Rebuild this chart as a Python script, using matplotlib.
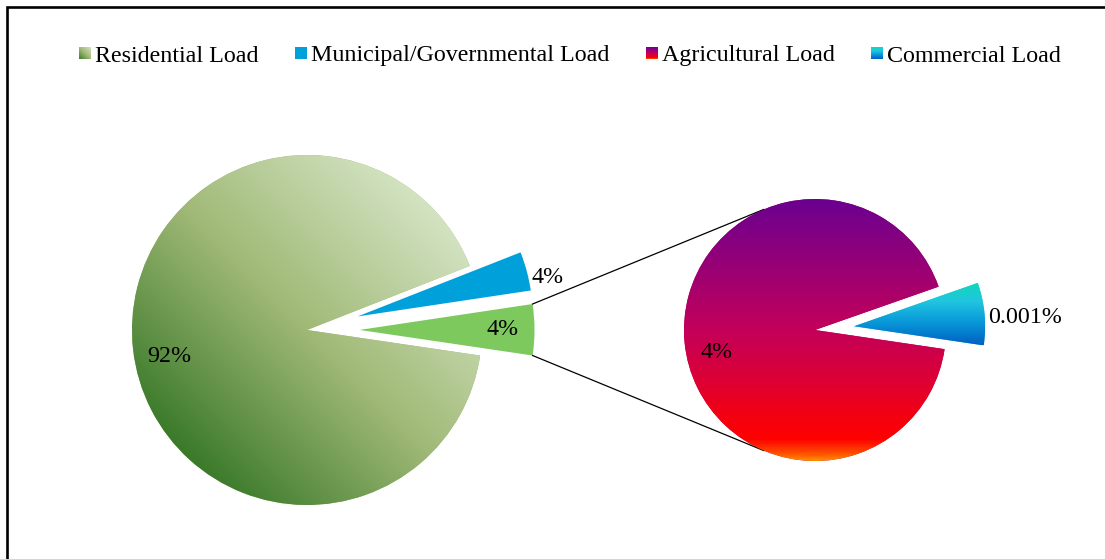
import numpy as np
import matplotlib
matplotlib.use('Agg')
import matplotlib.pyplot as plt
from matplotlib.colors import LinearSegmentedColormap
from matplotlib.patches import Rectangle
from matplotlib.legend_handler import HandlerBase
from matplotlib.font_manager import FontProperties

plt.rcParams['font.family'] = ['Liberation Serif', 'DejaVu Serif']

# ---------------- data ----------------
primary_labels = ['Other', 'Municipal/Governmental Load', 'Residential Load']
primary_sizes = [4.7, 3.6, 91.7]          # visual shares of the main pie
primary_text = ['4%', '4%', '92%']

secondary_labels = ['Commercial Load', 'Agricultural Load']
secondary_sizes = [7.7, 92.3]             # visual shares of the secondary pie
secondary_text = ['0.001%', '4%']

legend_order = ['Residential Load', 'Municipal/Governmental Load',
                'Agricultural Load', 'Commercial Load']

# ---------------- styles ----------------
cmap_res = LinearSegmentedColormap.from_list(
    'res', [(0, '#3b7a2a'), (0.5, '#a0b976'), (1, '#d3e3c2')])
cmap_agr = LinearSegmentedColormap.from_list(
    'agr', [(0, '#6a0090'), (0.31, '#a2006f'), (0.5, '#c3005a'),
            (0.69, '#dc0035'), (0.84, '#f5000f'), (0.92, '#ff0000'),
            (0.975, '#ff5000'), (1, '#ff8a00')])
cmap_com = LinearSegmentedColormap.from_list(
    'com', [(0, '#10d8b8'), (0.3, '#20c6e0'), (0.65, '#0896d8'), (1, '#0060c0')])
col_mun = '#00a0da'
col_other = '#7dc95e'
FS = 17.3

W, H = 1105, 559
fig = plt.figure(figsize=(W / 100, H / 100), dpi=100)
ax = fig.add_axes([0, 0, 1, 1])

c1 = (307, H - 330); r1 = 175
c2 = (815, H - 330); r2 = 131
start = -8.4
ex = 0.30   # explode as fraction of radius

w1, _ = ax.pie(primary_sizes, startangle=start, counterclock=True,
               explode=[ex * r1, ex * r1, 0.0], center=c1, radius=r1,
               colors=[col_other, col_mun, '#a0b976'],
               wedgeprops=dict(linewidth=0), frame=True)
w2, _ = ax.pie(secondary_sizes, startangle=start, counterclock=True,
               explode=[ex * r2, 0.0], center=c2, radius=r2,
               colors=['#20c6e0', '#c3005a'],
               wedgeprops=dict(linewidth=0), frame=True)


def grad_fill(wedge, cmap, kind, extent=None):
    cx, cy = wedge.center
    r = wedge.r
    if extent is None:
        extent = (cx - r, cx + r, cy - r, cy + r)
    x0, x1, y0, y1 = extent
    n = 300
    xs = np.linspace(x0, x1, n)
    ys = np.linspace(y0, y1, n)
    X, Y = np.meshgrid(xs, ys)
    if kind == 'diag':
        t = 0.5 + ((X - cx) + (Y - cy)) / (np.sqrt(2) * 2 * r)
    else:
        t = (y1 - Y) / (y1 - y0)
    im = ax.imshow(np.clip(t, 0, 1), extent=extent, origin='lower',
                   cmap=cmap, vmin=0, vmax=1, interpolation='bilinear',
                   zorder=wedge.get_zorder() + 0.1)
    im.set_clip_path(wedge)


grad_fill(w1[2], cmap_res, 'diag')
grad_fill(w2[1], cmap_agr, 'vert')
# commercial wedge: gradient across its own bounding box
wc = w2[0]
th = np.radians(np.linspace(wc.theta1, wc.theta2, 50))
bx = np.concatenate([[wc.center[0]], wc.center[0] + wc.r * np.cos(th)])
by = np.concatenate([[wc.center[1]], wc.center[1] + wc.r * np.sin(th)])
grad_fill(wc, cmap_com, 'vert', extent=(bx.min(), bx.max(), by.min(), by.max()))

# ---------------- labels ----------------
def put(wedge, text, dist, ang):
    cx, cy = wedge.center
    a = np.radians(ang)
    ax.text(cx + dist * wedge.r * np.cos(a), cy + dist * wedge.r * np.sin(a),
            text, ha='center', va='center', fontsize=FS, zorder=10)

put(w1[0], primary_text[0], 0.82, 0)
put(w1[1], primary_text[1], 1.11, 11.5)
put(w1[2], primary_text[2], 0.80, 191)
put(w2[1], secondary_text[1], 0.77, 193)
put(w2[0], secondary_text[0], 1.31, 3.0)

# ---------------- connector lines ----------------
g = w1[0]
for th_g, th_s in [(g.theta2, 113.0), (g.theta1, 247.0)]:
    p0 = (g.center[0] + g.r * np.cos(np.radians(th_g)),
          g.center[1] + g.r * np.sin(np.radians(th_g)))
    p1 = (c2[0] + r2 * np.cos(np.radians(th_s)),
          c2[1] + r2 * np.sin(np.radians(th_s)))
    ax.plot([p0[0], p1[0]], [p0[1], p1[1]], color='black', lw=0.9, zorder=1)

# ---------------- frame ----------------
ax.plot([6.5, 6.5, W + 5], [-5, H - 6.5, H - 6.5], color='black', lw=1.9,
        solid_joinstyle='miter', zorder=20)

# ---------------- legend ----------------
class GradHandler(HandlerBase):
    def __init__(self, kind, cmap=None, color=None):
        super().__init__()
        self.kind = kind
        self.cmap = cmap
        self.color = color

    def create_artists(self, legend, orig_handle, xdescent, ydescent,
                       width, height, fontsize, trans):
        s = width
        x0 = -xdescent
        y0 = -ydescent + (height - s) / 2
        if self.kind == 'solid':
            return [Rectangle((x0, y0), s, s, facecolor=self.color,
                              edgecolor='none', lw=0, transform=trans)]
        n = 12
        arts = []
        for i in range(n):
            for j in range(n):
                if self.kind == 'diag':
                    t = (i + j + 1) / (2 * n)
                else:
                    t = 1 - (j + 0.5) / n
                arts.append(Rectangle((x0 + i * s / n, y0 + j * s / n),
                                      s / n * 1.05, s / n * 1.05,
                                      facecolor=self.cmap(t), edgecolor='none',
                                      lw=0, antialiased=False, transform=trans))
        return arts


handles = [Rectangle((0, 0), 1, 1) for _ in legend_order]
hmap = {handles[0]: GradHandler('diag', cmap_res),
        handles[1]: GradHandler('solid', color=col_mun),
        handles[2]: GradHandler('vert', cmap_agr),
        handles[3]: GradHandler('vert', cmap_com)}
ax.legend(handles, legend_order, handler_map=hmap, loc='center',
          bbox_to_anchor=(570 / W, 1 - 56 / H), bbox_transform=fig.transFigure,
          ncol=4, frameon=False, prop=FontProperties(family='Liberation Serif', size=FS),
          handlelength=0.5, handleheight=0.5, handletextpad=0.17,
          columnspacing=1.52, borderpad=0, borderaxespad=0)

ax.set_xlim(0, W)
ax.set_ylim(0, H)
ax.set_aspect('auto')
ax.axis('off')

fig.savefig('out.png', dpi=100)
